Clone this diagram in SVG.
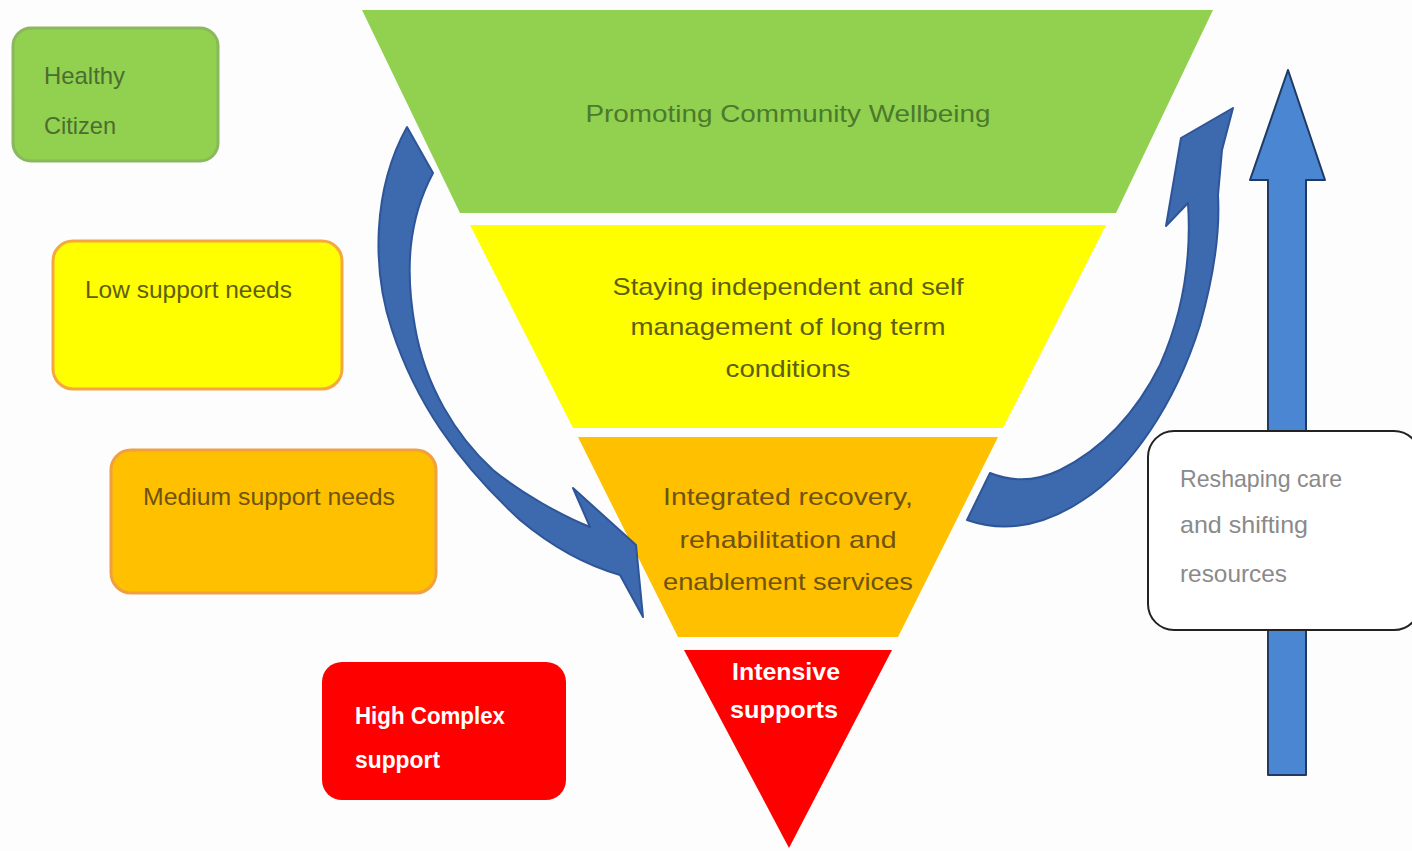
<svg xmlns="http://www.w3.org/2000/svg" width="1412" height="851" viewBox="0 0 1412 851">
  <style>
    .t { font-family: "Liberation Sans", Arial, sans-serif; font-size: 24px; }
    .c { text-anchor: middle; }
    .b { font-weight: bold; }
    .curve { fill: #3d6aae; stroke: #2d5597; stroke-width: 2; stroke-linejoin: round; }
  </style>
  <rect width="1412" height="851" fill="#fdfdfd"/>

  <!-- Funnel tiers -->
  <g id="tier-community">
    <polygon points="362,10 1213,10 1116,213 460,213" fill="#92d050"/>
    <text class="t c" x="788" y="122" font-size="27" fill="#4b7a2c" textLength="405" lengthAdjust="spacingAndGlyphs">Promoting Community Wellbeing</text>
  </g>
  <g id="tier-independent">
    <polygon points="470,225 1106,225 1003,428 573,428" fill="#ffff00"/>
    <text class="t c" x="788" y="295" font-size="26" fill="#5e5e10" textLength="351" lengthAdjust="spacingAndGlyphs">Staying independent and self</text>
    <text class="t c" x="788" y="335" font-size="26" fill="#5e5e10" textLength="315" lengthAdjust="spacingAndGlyphs">management of long term</text>
    <text class="t c" x="788" y="377" font-size="26" fill="#5e5e10" textLength="125" lengthAdjust="spacingAndGlyphs">conditions</text>
  </g>
  <g id="tier-recovery">
    <polygon points="578,437 998,437 898,637 678,637" fill="#ffc000"/>
    <text class="t c" x="788" y="505" font-size="26" fill="#6e5312" textLength="250" lengthAdjust="spacingAndGlyphs">Integrated recovery,</text>
    <text class="t c" x="788" y="548" font-size="26" fill="#6e5312" textLength="217" lengthAdjust="spacingAndGlyphs">rehabilitation and</text>
    <text class="t c" x="788" y="590" font-size="26" fill="#6e5312" textLength="250" lengthAdjust="spacingAndGlyphs">enablement services</text>
  </g>
  <g id="tier-intensive">
    <polygon points="684,650 892,650 789,848" fill="#ff0000"/>
    <text class="t c b" x="786" y="680" font-size="25" fill="#ffffff" textLength="108" lengthAdjust="spacingAndGlyphs">Intensive</text>
    <text class="t c b" x="784" y="718" font-size="25" fill="#ffffff" textLength="108" lengthAdjust="spacingAndGlyphs">supports</text>
  </g>

  <!-- Support level boxes -->
  <g id="box-healthy">
    <rect x="13" y="28" width="205" height="133" rx="18" fill="#92d050" stroke="#8ab85c" stroke-width="3"/>
    <text class="t" x="44" y="84" fill="#4a6e30" textLength="81" lengthAdjust="spacingAndGlyphs">Healthy</text>
    <text class="t" x="44" y="134" fill="#4a6e30" textLength="72" lengthAdjust="spacingAndGlyphs">Citizen</text>
  </g>
  <g id="box-low">
    <rect x="53" y="241" width="289" height="148" rx="20" fill="#ffff00" stroke="#f4a83e" stroke-width="3"/>
    <text class="t" x="85" y="298" fill="#5e5e10" textLength="207" lengthAdjust="spacingAndGlyphs">Low support needs</text>
  </g>
  <g id="box-medium">
    <rect x="111" y="450" width="325" height="143" rx="20" fill="#ffc000" stroke="#f0a040" stroke-width="3"/>
    <text class="t" x="143" y="505" fill="#6e5312" textLength="252" lengthAdjust="spacingAndGlyphs">Medium  support needs</text>
  </g>
  <g id="box-high">
    <rect x="322" y="662" width="244" height="138" rx="20" fill="#ff0000"/>
    <text class="t b" x="355" y="724" fill="#ffffff" textLength="150" lengthAdjust="spacingAndGlyphs">High Complex</text>
    <text class="t b" x="355" y="768" fill="#ffffff" textLength="85" lengthAdjust="spacingAndGlyphs">support</text>
  </g>

  <!-- Connectors: circulating arrows and the resource shift arrow -->
  <g id="connectors">
    <path class="curve" d="M407,127 C372,190 372,270 392,330 C415,400 455,460 520,520 C550,545 585,565 620,575 L643,617 L636,545 L573,488 L590,527 C560,515 520,492 493,470 C455,435 425,385 415,327 C405,270 408,220 433,173 Z"/>
    <path class="curve" d="M967,520 C1010,535 1050,522 1083,500 C1130,470 1175,405 1200,325 C1214,275 1220,230 1218,195 L1222,150 L1233,108 L1181,138 L1166,226 L1188,203 C1192,265 1180,320 1160,365 C1135,415 1100,450 1060,470 C1035,482 1012,482 990,473 Z"/>
    <polygon points="1268,775 1306,775 1306,180 1325,180 1288,70 1250,180 1268,180" fill="#4a86d2" stroke="#1f3a63" stroke-width="2" stroke-linejoin="round"/>
  </g>

  <g id="box-reshaping">
    <rect x="1148" y="431" width="272" height="199" rx="26" fill="#ffffff" stroke="#222222" stroke-width="2"/>
    <text class="t" x="1180" y="487" font-size="23" fill="#8a8a8a" textLength="162" lengthAdjust="spacingAndGlyphs">Reshaping care</text>
    <text class="t" x="1180" y="533" font-size="23" fill="#8a8a8a" textLength="128" lengthAdjust="spacingAndGlyphs">and shifting</text>
    <text class="t" x="1180" y="582" font-size="23" fill="#8a8a8a" textLength="107" lengthAdjust="spacingAndGlyphs">resources</text>
  </g>
</svg>
